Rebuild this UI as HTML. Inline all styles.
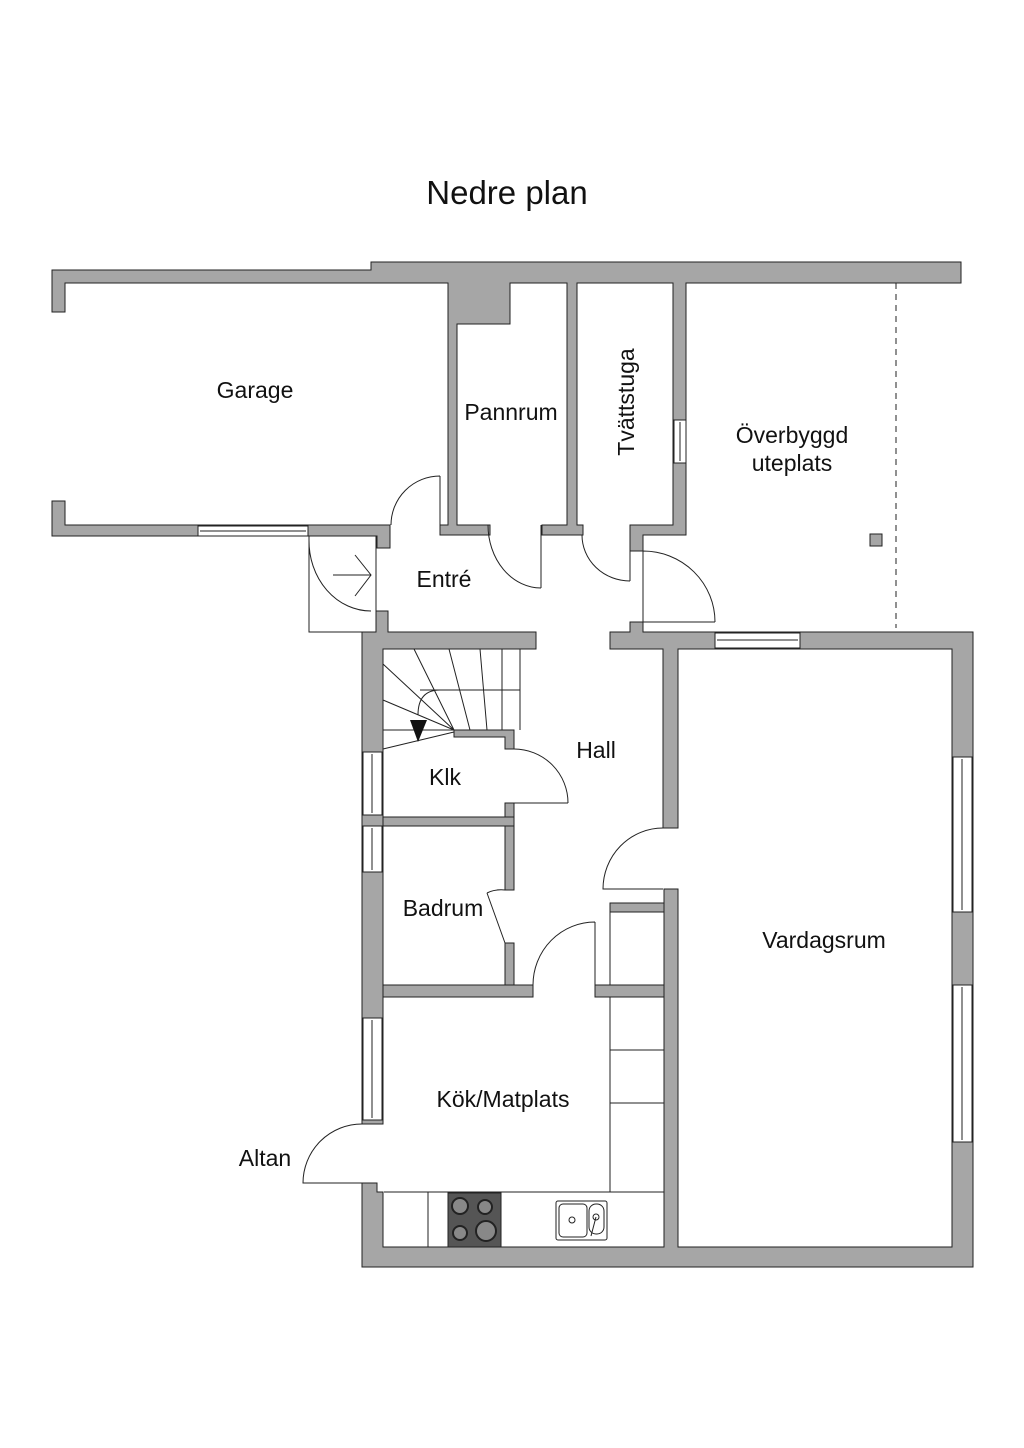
<!DOCTYPE html>
<html><head><meta charset="utf-8"><style>
html,body{margin:0;padding:0;background:#fff}
svg{display:block}
text{font-family:"Liberation Sans",sans-serif;fill:#111}
</style></head><body>
<svg width="1024" height="1448" viewBox="0 0 1024 1448" xmlns="http://www.w3.org/2000/svg">
<rect width="1024" height="1448" fill="#fff"/>
<text x="507" y="204" font-size="33" text-anchor="middle">Nedre plan</text>
<g fill="#a6a6a6" stroke="#222" stroke-width="1">
<path d="M52 270 H371 V262 H961 V283 H686 V535 H643 V551 H630 V525 H673 V283 H577 V525 H583 V535 H542 V525 H567 V283 H510 V324 H457 V525 H490 V535 H440 V525 H448 V283 H65 V312 H52 Z"/>
<path d="M52 501 H65 V525 H390 V548 H377 V536 H52 Z"/>
<path d="M376 611 H388 V632 H536 V649 H383 V1124 H362 V632 H376 Z"/>
<path d="M630 622 H643 V632 H973 V1267 H362 V1183 H377 V1192 H383 V1247 H664 V889 H678 V1247 H952 V649 H678 V828 H663 V649 H610 V632 H630 Z"/>
<path d="M454 730 H514 V749 H505 V737 H454 Z"/>
<rect x="505" y="803" width="9" height="87"/>
<rect x="383" y="817" width="131" height="9"/>
<rect x="505" y="943" width="9" height="42"/>
<rect x="383" y="985" width="150" height="12"/>
<rect x="595" y="985" width="69" height="12"/>
<rect x="610" y="903" width="54" height="9"/>
</g>
<g fill="#fff" stroke="#222" stroke-width="1">
<rect x="198" y="526" width="110" height="10"/><line x1="200" y1="531" x2="306" y2="531"/>
<rect x="674" y="420" width="12" height="43"/><line x1="680" y1="422" x2="680" y2="461"/>
<rect x="715" y="633" width="85" height="15"/><line x1="717" y1="640" x2="798" y2="640"/>
<rect x="363" y="752" width="19" height="63"/><line x1="372" y1="754" x2="372" y2="813"/>
<rect x="363" y="826" width="19" height="46"/><line x1="372" y1="828" x2="372" y2="870"/>
<rect x="363" y="1018" width="19" height="102"/><line x1="372" y1="1020" x2="372" y2="1118"/>
<rect x="953" y="757" width="19" height="155"/><line x1="962" y1="759" x2="962" y2="910"/>
<rect x="953" y="985" width="19" height="157"/><line x1="962" y1="987" x2="962" y2="1140"/>
</g>
<g fill="none" stroke="#222" stroke-width="1">
<path d="M440 476 V525 M440 476 A49 49 0 0 0 391 525"/>
<path d="M541 525 V588 M541 588 A53 63 0 0 1 488 525"/>
<path d="M630 535 V581 M630 581 A48 46 0 0 1 582 535"/>
<rect x="309" y="536" width="67" height="96"/>
<path d="M309 540 A62 70 0 0 0 371 611"/>
<path d="M333 575 H371 M355 555 L371 575 L355 596"/>
<path d="M643 551 V632 M643 622 H715 M643 551 A72 71 0 0 1 715 622"/>
<path d="M505 803 H568 M514 749 A54 54 0 0 1 568 803"/>
<path d="M487 893 L505 943 M505 890 Q495 889 487 893"/>
<path d="M595 922 V985 M595 922 A62 63 0 0 0 533 985"/>
<path d="M663 828 A60 61 0 0 0 603 889 H663"/>
<path d="M362 1124 A59 59 0 0 0 303 1183 H362"/>
<path d="M383 649 V752 M520 649 V730 M414 649 L454 730 M449 649 L470 730 M480 649 L487 730 M502 649 V730 M383 664 L454 730 M383 700 L454 730 M383 730 H454 M383 749 L454 732 M420 690 H520"/>
<path d="M440 690 Q418 690 418 715"/>
<rect x="610" y="912" width="54" height="73"/>
<path d="M610 997 V1192 M610 1050 H664 M610 1103 H664 M384 1192 H664 M428 1192 V1247"/>
<rect x="556" y="1201" width="51" height="39" rx="2"/>
<rect x="559" y="1204" width="28" height="33" rx="4"/>
<rect x="589" y="1204" width="15" height="30" rx="7"/>
<circle cx="572" cy="1220" r="3"/><circle cx="596" cy="1217" r="3"/>
<path d="M596 1217 L591 1236"/>
<path d="M896 283 V628" stroke-dasharray="6 5"/>
</g>
<path d="M410 720 H427 L418 742 Z" fill="#111"/>
<rect x="870" y="534" width="12" height="12" fill="#a6a6a6" stroke="#222"/>
<rect x="448" y="1193" width="53" height="54" fill="#555" stroke="#222"/>
<g fill="#888" stroke="#222" stroke-width="2">
<circle cx="460" cy="1206" r="8"/><circle cx="485" cy="1207" r="7"/>
<circle cx="460" cy="1233" r="7"/><circle cx="486" cy="1231" r="10"/>
</g>
<g font-size="23" text-anchor="middle">
<text x="255" y="398">Garage</text>
<text x="511" y="420">Pannrum</text>
<text transform="translate(634 402) rotate(-90)">Tvättstuga</text>
<text x="792" y="443">Överbyggd</text>
<text x="792" y="471">uteplats</text>
<text x="444" y="587">Entré</text>
<text x="596" y="758">Hall</text>
<text x="445" y="785">Klk</text>
<text x="443" y="916">Badrum</text>
<text x="824" y="948">Vardagsrum</text>
<text x="503" y="1107">Kök/Matplats</text>
<text x="265" y="1166">Altan</text>
</g>
</svg>
</body></html>
